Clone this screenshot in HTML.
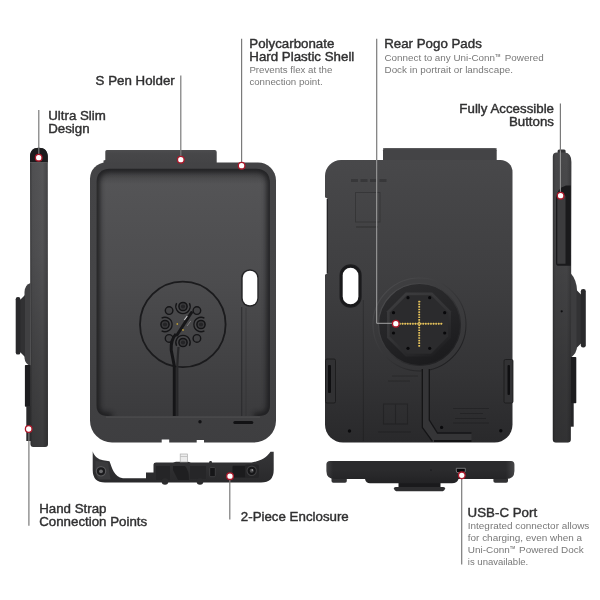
<!DOCTYPE html>
<html>
<head>
<meta charset="utf-8">
<title>Tablet Case Features</title>
<style>
html,body{margin:0;padding:0;background:#fff;}
body{width:600px;height:600px;overflow:hidden;position:relative;font-family:"Liberation Sans",sans-serif;}
svg{position:absolute;left:0;top:0;display:block;}
.h{font-family:"Liberation Sans",sans-serif;font-size:12.400px;fill:#303031;stroke:#303031;stroke-width:0.400px;}
.b{font-family:"Liberation Sans",sans-serif;font-size:9.700px;fill:#787878;}
.b2{font-family:"Liberation Sans",sans-serif;font-size:9.950px;fill:#787878;}
.ln{stroke:#7a7a7a;stroke-width:1.200;fill:none;}
.dot{fill:#fff;stroke:#ad182a;stroke-width:1.300;}
</style>
</head>
<body>
<svg width="600" height="600" viewBox="0 0 600 600">
<defs>
  <linearGradient id="gRim" x1="0" y1="0" x2="0" y2="1">
    <stop offset="0" stop-color="#434345"/>
    <stop offset="0.5" stop-color="#454547"/>
    <stop offset="1" stop-color="#3e3e40"/>
  </linearGradient>
  <linearGradient id="gInner" x1="0" y1="0" x2="0" y2="1">
    <stop offset="0" stop-color="#555557"/>
    <stop offset="0.45" stop-color="#4c4c4e"/>
    <stop offset="1" stop-color="#3b3b3d"/>
  </linearGradient>
  <linearGradient id="gTopSh" x1="0" y1="0" x2="0" y2="1">
    <stop offset="0" stop-color="#202022" stop-opacity="0.600"/>
    <stop offset="0.3" stop-color="#202022" stop-opacity="0.350"/>
    <stop offset="1" stop-color="#202022" stop-opacity="0"/>
  </linearGradient>
  <linearGradient id="gTab" x1="0" y1="0" x2="0" y2="1">
    <stop offset="0" stop-color="#4d4d4f"/>
    <stop offset="0.2" stop-color="#474749"/>
    <stop offset="1" stop-color="#434345"/>
  </linearGradient>
  <linearGradient id="gBack" x1="0" y1="0" x2="0" y2="1">
    <stop offset="0" stop-color="#48484a"/>
    <stop offset="0.4" stop-color="#3f3f41"/>
    <stop offset="0.75" stop-color="#343436"/>
    <stop offset="1" stop-color="#29292b"/>
  </linearGradient>
  <linearGradient id="gSideL" x1="0" y1="0" x2="1" y2="0">
    <stop offset="0" stop-color="#38383a"/>
    <stop offset="0.14" stop-color="#505052"/>
    <stop offset="0.7" stop-color="#565658"/>
    <stop offset="1" stop-color="#434345"/>
  </linearGradient>
  <linearGradient id="gSideLv" x1="0" y1="0" x2="0" y2="1">
    <stop offset="0" stop-color="#000" stop-opacity="0"/>
    <stop offset="0.35" stop-color="#000" stop-opacity="0.06"/>
    <stop offset="0.7" stop-color="#000" stop-opacity="0.22"/>
    <stop offset="1" stop-color="#000" stop-opacity="0.32"/>
  </linearGradient>
  <linearGradient id="gSideR" x1="0" y1="0" x2="1" y2="0">
    <stop offset="0" stop-color="#343436"/>
    <stop offset="0.12" stop-color="#464648"/>
    <stop offset="0.75" stop-color="#49494b"/>
    <stop offset="1" stop-color="#3a3a3c"/>
  </linearGradient>
  <linearGradient id="gBot" x1="0" y1="0" x2="0" y2="1">
    <stop offset="0" stop-color="#2b2b2d"/>
    <stop offset="0.4" stop-color="#2b2b2d"/>
    <stop offset="1" stop-color="#222224"/>
  </linearGradient>
  <linearGradient id="gBotH" x1="0" y1="0" x2="1" y2="0">
    <stop offset="0" stop-color="#fff" stop-opacity="0.100"/>
    <stop offset="0.035" stop-color="#fff" stop-opacity="0"/>
    <stop offset="0.955" stop-color="#fff" stop-opacity="0"/>
    <stop offset="1" stop-color="#fff" stop-opacity="0.130"/>
  </linearGradient>
  <linearGradient id="gPiece" x1="0" y1="0" x2="0" y2="1">
    <stop offset="0" stop-color="#363638"/>
    <stop offset="1" stop-color="#29292b"/>
  </linearGradient>
  <linearGradient id="gRing" x1="0.2" y1="0" x2="0.6" y2="1">
    <stop offset="0" stop-color="#2c2c2e"/>
    <stop offset="0.5" stop-color="#252527"/>
    <stop offset="1" stop-color="#1b1b1d"/>
  </linearGradient>
  <linearGradient id="gRingSt" x1="0.15" y1="0.1" x2="0.85" y2="0.9">
    <stop offset="0" stop-color="#4a4a4c"/>
    <stop offset="0.5" stop-color="#363638"/>
    <stop offset="1" stop-color="#1f1f21"/>
  </linearGradient>
  <linearGradient id="gOct" x1="0.2" y1="0" x2="0.8" y2="1">
    <stop offset="0" stop-color="#3c3c3e"/>
    <stop offset="0.5" stop-color="#333335"/>
    <stop offset="1" stop-color="#1d1d1f"/>
  </linearGradient>
  <filter color-interpolation-filters="sRGB" id="tsoft" x="-2%" y="-2%" width="104%" height="104%"><feGaussianBlur color-interpolation-filters="sRGB" stdDeviation="0.350"/></filter>
  <filter color-interpolation-filters="sRGB" id="soft" x="-5%" y="-5%" width="110%" height="110%"><feGaussianBlur color-interpolation-filters="sRGB" stdDeviation="0.5"/></filter>
  <filter color-interpolation-filters="sRGB" id="blur3" x="-10%" y="-300%" width="120%" height="700%"><feGaussianBlur color-interpolation-filters="sRGB" stdDeviation="3"/></filter>
  <filter color-interpolation-filters="sRGB" id="blur3b" x="-10%" y="-10%" width="120%" height="120%"><feGaussianBlur color-interpolation-filters="sRGB" stdDeviation="2.600"/></filter>
  <filter color-interpolation-filters="sRGB" id="blur2" x="-10%" y="-10%" width="120%" height="120%"><feGaussianBlur color-interpolation-filters="sRGB" stdDeviation="1.6"/></filter>
  <clipPath id="cInner"><path d="M110,168.700 L256,168.700 C265,168.700 270,174 270,183 L270,405 Q270,416 259,416 L107.500,416 Q96.500,416 96.500,405 L96.500,182 C96.500,174 101,168.700 110,168.700 Z"/></clipPath>
</defs>

<g filter="url(#soft)">
<!-- ============ FRONT VIEW ============ -->
<g id="front">
  <path d="M103.500,166 L103.500,160.500 L105.300,160 L105.300,151.500 Q105.300,150 106.800,150 L214.700,150 Q216.700,150 216.700,152 L216.700,166 Z" fill="url(#gTab)"/>
  <path d="M106,162.500 L258,162.500 A18,18 0 0 1 276,180.500 L276,420.500 A22,22 0 0 1 254,442.500 L112,442.500 A22,22 0 0 1 90,420.500 L90,178.500 A16,16 0 0 1 106,162.500 Z" fill="url(#gRim)"/>
  <!-- inner recess -->
  <path d="M110,168.700 L256,168.700 C265,168.700 270,174 270,183 L270,405 Q270,416 259,416 L107.500,416 Q96.500,416 96.500,405 L96.500,182 C96.500,174 101,168.700 110,168.700 Z" fill="url(#gInner)"/>
  <g clip-path="url(#cInner)">
    <path d="M112,416 L107.500,416 Q96.500,416 96.500,405 L96.500,182 C96.500,174 101,168.700 110,168.700 L256,168.700 C265,168.700 270,174 270,183 L270,405 Q270,416 259,416 L254,416" fill="none" stroke="#1c1c1e" stroke-width="7" filter="url(#blur3b)" opacity="0.900"/>
    <path d="M96,416.500 L270,416.500" stroke="#1c1c1e" stroke-width="2.500" filter="url(#blur2)" opacity="0.600"/>
    <rect x="96" y="168" width="175" height="16" fill="url(#gTopSh)"/>
  </g>
  <!-- bottom lip highlight -->
  <path d="M106,417.200 L260,417.200" stroke="#4c4c4e" stroke-width="1.200"/>
  <!-- circle -->
  <circle cx="182.800" cy="324.400" r="42.800" fill="none" stroke="#1b1b1d" stroke-width="1.800"/>
  <!-- right rail -->
  <path d="M241.700,307 L241.700,416" stroke="#262628" stroke-width="1.100" opacity="0.750"/>
  <path d="M246,308 L246,416" stroke="#2c2c2e" stroke-width="1" opacity="0.450"/>
  <!-- slot -->
  <rect x="241.200" y="269.200" width="17.400" height="37.600" rx="8.700" fill="#242426"/>
  <rect x="242.700" y="270.700" width="14.600" height="34.600" rx="7.300" fill="#fff"/>
  <!-- hub -->
  <g>
    <path d="M189.4,303.1 A7.2,7.2 0 1 1 176.6,303.1" fill="none" stroke="#151517" stroke-width="1.300"/>
    <path d="M204.4,330.9 A7.2,7.2 0 1 1 204.4,318.1" fill="none" stroke="#151517" stroke-width="1.300"/>
    <path d="M176.6,345.9 A7.2,7.2 0 1 1 189.4,345.9" fill="none" stroke="#151517" stroke-width="1.300"/>
    <path d="M161.6,318.1 A7.2,7.2 0 1 1 161.6,330.9" fill="none" stroke="#151517" stroke-width="1.300"/>
    <circle cx="196.9" cy="310.6" r="3.800" fill="#424244" stroke="#151517" stroke-width="1.400"/>
    <circle cx="196.9" cy="338.4" r="3.800" fill="#424244" stroke="#151517" stroke-width="1.400"/>
    <circle cx="169.1" cy="338.4" r="3.800" fill="#424244" stroke="#151517" stroke-width="1.400"/>
    <circle cx="169.1" cy="310.6" r="3.800" fill="#424244" stroke="#151517" stroke-width="1.400"/>
    <circle cx="183.0" cy="306.5" r="4.100" fill="#3a3a3c" stroke="#141416" stroke-width="1.500"/>
    <circle cx="183.0" cy="306.5" r="2.100" fill="#252527"/>
    <circle cx="201.0" cy="324.5" r="4.100" fill="#3a3a3c" stroke="#141416" stroke-width="1.500"/>
    <circle cx="201.0" cy="324.5" r="2.100" fill="#252527"/>
    <circle cx="183.0" cy="342.5" r="4.100" fill="#3a3a3c" stroke="#141416" stroke-width="1.500"/>
    <circle cx="183.0" cy="342.5" r="2.100" fill="#252527"/>
    <circle cx="165.0" cy="324.5" r="4.100" fill="#3a3a3c" stroke="#141416" stroke-width="1.500"/>
    <circle cx="165.0" cy="324.5" r="2.100" fill="#252527"/>
  </g>
  <path d="M191.500,312.500 L177,335" stroke="#161618" stroke-width="3" stroke-linecap="round"/>
  <path d="M190.800,321 L187,326" stroke="#7a7a7c" stroke-width="1"/>
  <path d="M187.300,316 L184.300,320" stroke="#c8c8ca" stroke-width="1.200"/>
  <circle cx="177.300" cy="324" r="0.900" fill="#b89a36"/>
  <circle cx="183" cy="330" r="0.900" fill="#b89a36"/>
  <!-- cable -->
  <path d="M176,334 Q170.500,340 171.200,350 L174.300,366 L174.300,416" fill="none" stroke="#151517" stroke-width="3" stroke-linejoin="round"/>
  <path d="M178.500,347 Q177.800,355 177.300,366 L177.300,416" fill="none" stroke="#272729" stroke-width="2.200"/>
  <!-- bottom details -->
  <circle cx="200" cy="421.700" r="1.700" fill="#121214"/>
  <rect x="233.300" y="421" width="20" height="3" rx="1.500" fill="#121214"/>
  <rect x="161.700" y="439.500" width="7.500" height="4" fill="#fff"/>
  <rect x="196.700" y="440" width="7.300" height="4" fill="#fff"/>
</g>

<!-- ============ BOTTOM PIECE (2-piece enclosure) ============ -->
<g id="piece">
  <path d="M92.700,451.300 C94,456 98,459.500 103,460.300 L109.500,461.300 C112,468 114,477 123,478.300 L146,478.300 L146,472.500 L153.500,472.500 L153.500,464.500 Q153.500,462.500 156,462.500 L173,462.500 L176,461.800 L188,461.800 L191,462.500 L209,462.500 L209.700,461 L211.500,461 L212,462.500 L249,462.500 C260,462 267,457 270.500,451.700 L273.700,451.700 L273.700,470 Q273.700,482.500 261,482.500 L105,482.500 Q92.700,482.500 92.700,470 Z" fill="url(#gPiece)"/>
  <!-- left pad + screw -->
  <path d="M95.500,461 L108,462.500 L110.500,479.500 L99,479.500 Q95.500,476 95.500,470 Z" fill="#3a3a3c"/>
  <circle cx="101" cy="471.300" r="4.700" fill="#1a1a1c" stroke="#58585a" stroke-width="1.200"/>
  <circle cx="101" cy="471.300" r="1.900" fill="#6a6a6c"/>
  <!-- connector -->
  <rect x="180.200" y="454" width="7.300" height="8" fill="#ececec" stroke="#adadad" stroke-width="0.700"/>
  <path d="M180.200,456.500 L187.500,456.500" stroke="#bdbdbd" stroke-width="0.800"/>
  <!-- recesses -->
  <rect x="232.500" y="465.800" width="13.300" height="11.700" rx="1" fill="#1b1b1d"/>
  <rect x="245" y="464.500" width="14" height="13.500" rx="2" fill="#252527"/>
  <circle cx="251.700" cy="470.800" r="4.700" fill="#151517" stroke="#3f3f41" stroke-width="1.100"/>
  <circle cx="251.700" cy="470.800" r="2" fill="#4a4a4c"/>
  <circle cx="252.300" cy="470" r="0.800" fill="#bbbbbd"/>
  <rect x="209.700" y="467.500" width="5.600" height="9.200" rx="1" fill="#161618" stroke="#4a4a4c" stroke-width="0.700"/>
  <path d="M173,466 L185,466 Q189,470 189,480 L178,480 Q175,474 173,470 Z" fill="#1f1f21"/>
  <path d="M156,466 L170,466 L170,480 L156,480 Z" fill="#252527"/>
  <path d="M190,466 L206,466 L206,479 L190,479 Z" fill="#262628"/>
  <circle cx="165" cy="481.500" r="3.300" fill="#2b2b2d"/>
  <circle cx="200" cy="481.500" r="3.300" fill="#2b2b2d"/>
</g>

<!-- ============ BACK VIEW ============ -->
<g id="back">
  <path d="M383,165 L383,150.300 Q383,148.300 385,148.300 L494.700,148.300 Q496.700,148.300 496.700,150.300 L496.700,165 Z" fill="#444446"/>
  <path d="M383,148.800 L496.700,148.800" stroke="#4e4e50" stroke-width="1"/>
  <path d="M341,160 L500.500,160 A12,12 0 0 1 512.500,172 L512.500,424.500 A18,18 0 0 1 494.500,442.500 L343,442.500 A18,18 0 0 1 325,424.500 L325,176 A16,16 0 0 1 341,160 Z" fill="url(#gBack)"/>
  <!-- left darker edge strip -->
  <path d="M324.500,197 L327.300,198.500 L327.300,273 L325.700,274.500 L324.500,274.500 Z" fill="#fff"/>
  <path d="M327.300,199 L327.300,273" stroke="#1b1b1d" stroke-width="1.200"/>
  <!-- emboss details -->
  <g stroke="#000" fill="none" opacity="0.200">
    <path d="M363.300,300 L363.300,441" stroke-width="1"/>
    <rect x="355.500" y="192.500" width="24.500" height="29.500" stroke-width="1"/>
    <path d="M351,180.500 L388,180.500" stroke-width="3" stroke-dasharray="7 2.500"/>
    <path d="M356,227 L378,227" stroke-width="1.500"/>
    <rect x="383.500" y="404" width="24" height="20" stroke-width="1.200"/>
    <path d="M395.500,404 L395.500,424" stroke-width="1.200"/>
    <path d="M378,432 L411,432" stroke-width="1.200"/>
    <path d="M453,408.500 L489,408.500"/><path d="M460,413.500 L483,413.500"/><path d="M455,418.500 L486,418.500"/><path d="M453,423 L489,423"/>
    <path d="M392,376 L418,376"/><path d="M388,381 L410,381"/>
  </g>
  <!-- slot -->
  <rect x="339.500" y="264.300" width="22.200" height="43.500" rx="11.100" fill="#1f1f21"/>
  <rect x="340.500" y="265.300" width="20.200" height="41.500" rx="10.100" fill="#19191b"/>
  <rect x="342.700" y="267.700" width="15.700" height="36.600" rx="7.850" fill="#fff"/>
  <!-- ring -->
  <circle cx="419.500" cy="324.500" r="46.500" fill="none" stroke="url(#gRingSt)" stroke-width="1.100"/>
  <circle cx="419.500" cy="324.500" r="41" fill="url(#gRing)" stroke="url(#gRingSt)" stroke-width="1.200"/>
  <!-- stem -->
  <path d="M421.700,369 L429.300,369 L429.300,420 L437.500,432.500 L471.500,432.500 L471.500,442 L432,442 L421.700,428 Z" fill="#353537"/>
  <path d="M422.300,369 L422.300,427.500 L432.500,441.500" fill="none" stroke="#141416" stroke-width="1.300"/>
  <path d="M429.300,369 L429.300,420 L437.500,433 L471.500,433" fill="none" stroke="#151517" stroke-width="1.300"/>
  <path d="M434,441 L471.500,441" stroke="#111113" stroke-width="2.200"/>
  <!-- octagon -->
  <path d="M405.7,292.5 L432.3,292.5 L451.0,311.2 L451.0,337.8 L432.3,356.5 L405.7,356.5 L387.0,337.8 L387.0,311.2 Z" fill="url(#gOct)"/>
  <path d="M406.9,295.2 L431.1,295.2 L448.3,312.4 L448.3,336.6 L431.1,353.8 L406.9,353.8 L389.7,336.6 L389.7,312.4 Z" fill="#2b2b2d"/>
  <g fill="#08080a"><circle cx="408" cy="297.7" r="1.600"/><circle cx="429.7" cy="297.7" r="1.600"/><circle cx="444.7" cy="312.7" r="1.600"/><circle cx="444.7" cy="333" r="1.600"/><circle cx="429.7" cy="348.3" r="1.600"/><circle cx="408" cy="348.3" r="1.600"/><circle cx="393.5" cy="333" r="1.600"/><circle cx="393.5" cy="312.7" r="1.600"/></g>
  <!-- pogo pads -->
  <g fill="#e6c35c"><rect x="399.15" y="322.85" width="1.700" height="1.900" rx="0.400"/><rect x="401.73" y="322.85" width="1.700" height="1.900" rx="0.400"/><rect x="404.31" y="322.85" width="1.700" height="1.900" rx="0.400"/><rect x="406.89" y="322.85" width="1.700" height="1.900" rx="0.400"/><rect x="409.47" y="322.85" width="1.700" height="1.900" rx="0.400"/><rect x="412.06" y="322.85" width="1.700" height="1.900" rx="0.400"/><rect x="414.64" y="322.85" width="1.700" height="1.900" rx="0.400"/><rect x="417.22" y="322.85" width="1.700" height="1.900" rx="0.400"/><rect x="419.80" y="322.85" width="1.700" height="1.900" rx="0.400"/><rect x="422.38" y="322.85" width="1.700" height="1.900" rx="0.400"/><rect x="424.96" y="322.85" width="1.700" height="1.900" rx="0.400"/><rect x="427.54" y="322.85" width="1.700" height="1.900" rx="0.400"/><rect x="430.12" y="322.85" width="1.700" height="1.900" rx="0.400"/><rect x="432.71" y="322.85" width="1.700" height="1.900" rx="0.400"/><rect x="435.29" y="322.85" width="1.700" height="1.900" rx="0.400"/><rect x="437.87" y="322.85" width="1.700" height="1.900" rx="0.400"/><rect x="440.45" y="322.85" width="1.700" height="1.900" rx="0.400"/><rect x="418.25" y="300.85" width="1.900" height="1.700" rx="0.400"/><rect x="418.25" y="303.44" width="1.900" height="1.700" rx="0.400"/><rect x="418.25" y="306.04" width="1.900" height="1.700" rx="0.400"/><rect x="418.25" y="308.63" width="1.900" height="1.700" rx="0.400"/><rect x="418.25" y="311.23" width="1.900" height="1.700" rx="0.400"/><rect x="418.25" y="313.82" width="1.900" height="1.700" rx="0.400"/><rect x="418.25" y="316.41" width="1.900" height="1.700" rx="0.400"/><rect x="418.25" y="319.01" width="1.900" height="1.700" rx="0.400"/><rect x="418.25" y="321.60" width="1.900" height="1.700" rx="0.400"/><rect x="418.25" y="324.20" width="1.900" height="1.700" rx="0.400"/><rect x="418.25" y="326.79" width="1.900" height="1.700" rx="0.400"/><rect x="418.25" y="329.39" width="1.900" height="1.700" rx="0.400"/><rect x="418.25" y="331.98" width="1.900" height="1.700" rx="0.400"/><rect x="418.25" y="334.57" width="1.900" height="1.700" rx="0.400"/><rect x="418.25" y="337.17" width="1.900" height="1.700" rx="0.400"/><rect x="418.25" y="339.76" width="1.900" height="1.700" rx="0.400"/><rect x="418.25" y="342.36" width="1.900" height="1.700" rx="0.400"/><rect x="418.25" y="344.95" width="1.900" height="1.700" rx="0.400"/></g>
  <!-- side clips -->
  <rect x="325.500" y="359" width="10" height="44" rx="1.500" fill="#313133" stroke="#19191b" stroke-width="0.800"/>
  <rect x="328" y="365" width="3" height="28" rx="1" fill="#0f0f11"/>
  <rect x="504" y="359.500" width="9" height="43.500" rx="1.500" fill="#323234" stroke="#19191b" stroke-width="0.800"/>
  <rect x="507.500" y="365" width="2.500" height="30" rx="1" fill="#0f0f11"/>
  <!-- corner screws -->
  <circle cx="349.500" cy="431" r="1.700" fill="#0a0a0c"/>
  <circle cx="441.600" cy="427.400" r="1.600" fill="#0a0a0c"/>
  <circle cx="500.800" cy="430.800" r="1.700" fill="#0a0a0c"/>
</g>

<!-- ============ LEFT SIDE VIEW ============ -->
<g id="sideL">
  <!-- ring neck -->
  <path d="M30.500,283 Q25,284.500 24.500,292 L24.500,358 Q25,364 30.500,366 Z" fill="#404042"/>
  <path d="M20,300 L25,295 L25,357 L20,352 Z" fill="#313133"/>
  <rect x="15.700" y="297" width="4.700" height="57.600" rx="2.200" fill="#29292b"/>
  <!-- strap rail -->
  <rect x="24.900" y="365" width="6" height="41.700" rx="0.800" fill="#1d1d1f"/>
  <rect x="26.300" y="406" width="5" height="35" fill="#29292b"/>
  <!-- body -->
  <path d="M30,157 C30,151 33,147.800 38.800,147.800 C44.600,147.800 47.800,151 47.800,157 L48,444 Q48,447 45,447 L33.500,447 Q30.500,447 30.500,444 Z" fill="url(#gSideL)"/>
  <path d="M30,157 C30,151 33,147.800 38.800,147.800 C44.600,147.800 47.800,151 47.800,157 L48,444 Q48,447 45,447 L33.500,447 Q30.500,447 30.500,444 Z" fill="url(#gSideLv)"/>
  <path d="M30,162 L30,157 C30,151 33,147.800 38.800,147.800 C44.600,147.800 47.800,151 47.800,157 L47.800,162 Z" fill="#1c1c1e"/>
  <path d="M30,162.500 L47.800,162.500" stroke="#5a5a5c" stroke-width="0.800"/>
</g>

<!-- ============ RIGHT SIDE VIEW ============ -->
<g id="sideR">
  <!-- ring neck / disc -->
  <path d="M570.500,273 Q577,280 577.200,292 L577.200,346 Q577,353 570.500,358 Z" fill="#3d3d3f"/>
  <path d="M576.500,290 L581.500,295 L581.500,343 L576.500,348 Z" fill="#323234"/>
  <rect x="580.800" y="289" width="5" height="58.500" rx="2.300" fill="#29292b"/>
  <!-- rail -->
  <rect x="569.500" y="357" width="6.800" height="46.300" rx="0.800" fill="#1c1c1e"/>
  <rect x="569.500" y="403" width="4.200" height="23.700" fill="#252527"/>
  <!-- top bump -->
  <rect x="557.600" y="149.600" width="8" height="5" rx="1.500" fill="#333335"/>
  <!-- body -->
  <path d="M552.800,156.500 Q552.800,152.500 556.800,152.500 L565,152.500 Q571.400,153 571.400,162 L570.800,439.500 Q570.800,442.500 567.800,442.500 L555.800,442.500 Q552.800,442.500 552.800,439.500 Z" fill="url(#gSideR)"/>
  <path d="M552.800,156.500 Q552.800,152.500 556.800,152.500 L565,152.500 Q571.400,153 571.400,162 L570.800,439.500 Q570.800,442.500 567.800,442.500 L555.800,442.500 Q552.800,442.500 552.800,439.500 Z" fill="url(#gSideLv)"/>
  <!-- button recess -->
  <path d="M556,198 Q557,188 566,185.500 L570.800,185.500 L570.800,265.800 L558,265.800 Q556,265.800 556,263 Z" fill="#1a1a1c"/>
  <path d="M557.300,200 Q558,194 562,193 L565.500,196 L565.500,263.800 L557.300,263.800 Z" fill="#3c3c3e"/>
  <circle cx="561.700" cy="311.300" r="1.100" fill="#0e0e10"/>
</g>

<!-- ============ BOTTOM VIEW ============ -->
<g id="bottom">
  <!-- mount -->
  <path d="M398.500,482 L440.500,482 L440.500,488 L398.500,488 Z" fill="#1a1a1c"/>
  <path d="M394,488.200 Q394,487 396,487 L443,487 Q445,487 445,488.200 Q445,491.300 441,491.300 L398,491.300 Q394,491.300 394,488.200 Z" fill="#2e2e30"/>
  <!-- feet -->
  <rect x="331.500" y="477" width="15.300" height="5.800" rx="1.800" fill="#313133"/>
  <rect x="493.400" y="477" width="14.600" height="5.800" rx="1.800" fill="#313133"/>
  <path d="M330,461 L511,461 Q514.400,461 514.400,464.500 L514.400,471 Q514.400,479 506,479 L458.500,479 Q457,483.300 452,483.300 L370,483.300 Q366,483.300 365,479 L335,479 Q326.400,479 326.400,471 L326.400,464.500 Q326.400,461 330,461 Z" fill="url(#gBot)"/>
  <path d="M330,461 L511,461 Q514.400,461 514.400,464.500 L514.400,471 Q514.400,479 506,479 L458.500,479 Q457,483.300 452,483.300 L370,483.300 Q366,483.300 365,479 L335,479 Q326.400,479 326.400,471 L326.400,464.500 Q326.400,461 330,461 Z" fill="url(#gBotH)"/>
  <!-- usb port -->
  <path d="M456.300,468.300 L465.300,468.300 L465.300,471 Q465.300,472.700 463.500,472.700 L458,472.700 Q456.300,472.700 456.300,471 Z" fill="#070709" stroke="#8c8c8e" stroke-width="0.800"/>
  <circle cx="431" cy="470" r="0.600" fill="#0a0a0c"/>
</g>
</g>

<!-- ============ CALLOUT LINES ============ -->
<g filter="url(#tsoft)">
<g class="ln">
  <path d="M38.800,110 L38.800,155"/>
  <path d="M180.800,75.600 L180.800,156"/>
  <path d="M241.600,38.700 L241.600,163"/>
  <path d="M560.400,103.400 L560.400,151"/>
  <path d="M28.900,431 L28.900,525.800"/>
  <path d="M229.800,478 L229.800,519.500"/>
  <path d="M461.700,478 L461.700,564.500"/>
  <path d="M376.700,38.700 L376.700,160"/>
</g>
<path d="M376.700,160 L376.700,323.300 L393,323.300" fill="none" stroke="#a3a3a3" stroke-width="1"/>
<path d="M560.400,151 L560.400,193" fill="none" stroke="#9c9c9c" stroke-width="1"/>
<g class="dot">
  <circle cx="38.700" cy="157.700" r="3.300"/>
  <circle cx="180.800" cy="159.700" r="3.300"/>
  <circle cx="241.600" cy="165.700" r="3.300"/>
  <circle cx="395.800" cy="323.700" r="3.300"/>
  <circle cx="560.600" cy="195.700" r="3.300"/>
  <circle cx="28.700" cy="429" r="3.300"/>
  <circle cx="230" cy="476.200" r="3.300"/>
  <circle cx="461.800" cy="475.300" r="3.300"/>
</g>

</g>
<!-- ============ TEXT ============ -->
<g filter="url(#tsoft)">
<g class="h">
  <text transform="translate(48.2,119.8) scale(1.073,1)">Ultra Slim</text>
  <text transform="translate(48.2,132.6) scale(1.073,1)">Design</text>
  <text transform="translate(95.6,85.3) scale(1.073,1)">S Pen Holder</text>
  <text transform="translate(249.3,48.4) scale(1.073,1)">Polycarbonate</text>
  <text transform="translate(249.3,61.2) scale(1.073,1)">Hard Plastic Shell</text>
  <text transform="translate(384.2,47.8) scale(1.073,1)">Rear Pogo Pads</text>
  <text transform="translate(554.0,113.4) scale(1.073,1)" text-anchor="end">Fully Accessible</text>
  <text transform="translate(554.0,126.1) scale(1.073,1)" text-anchor="end">Buttons</text>
  <text transform="translate(39.2,513.1) scale(1.073,1)">Hand Strap</text>
  <text transform="translate(39.2,526.1) scale(1.073,1)">Connection Points</text>
  <text transform="translate(240.8,520.5) scale(1.073,1)">2-Piece Enclosure</text>
  <text transform="translate(467.6,516.8) scale(1.073,1)">USB-C Port</text>
</g>
<g class="b">
  <text x="249.400" y="73.400">Prevents flex at the</text>
  <text x="249.400" y="85.300">connection point.</text>
  <text x="384.500" y="60.800" font-size="9.850">Connect to any Uni-Conn<tspan font-size="3.400" dy="-4.200" dx="0.300" font-weight="bold">TM</tspan><tspan dy="4.200" dx="1.800"> Powered</tspan></text>
  <text x="384.500" y="72.500" font-size="9.900">Dock in portrait or landscape.</text>
</g>
<g class="b2">
  <text x="467.800" y="529.300">Integrated connector allows</text>
  <text x="467.800" y="541.200">for charging, even when a</text>
  <text x="467.800" y="553">Uni-Conn<tspan font-size="3.400" dy="-4.200" dx="0.300" font-weight="bold">TM</tspan><tspan dy="4.200" dx="1.300"> Powered Dock</tspan></text>
  <text x="467.800" y="564.600" textLength="60.400" lengthAdjust="spacingAndGlyphs">is unavailable.</text>
</g>
</g>
</svg>
</body>
</html>
